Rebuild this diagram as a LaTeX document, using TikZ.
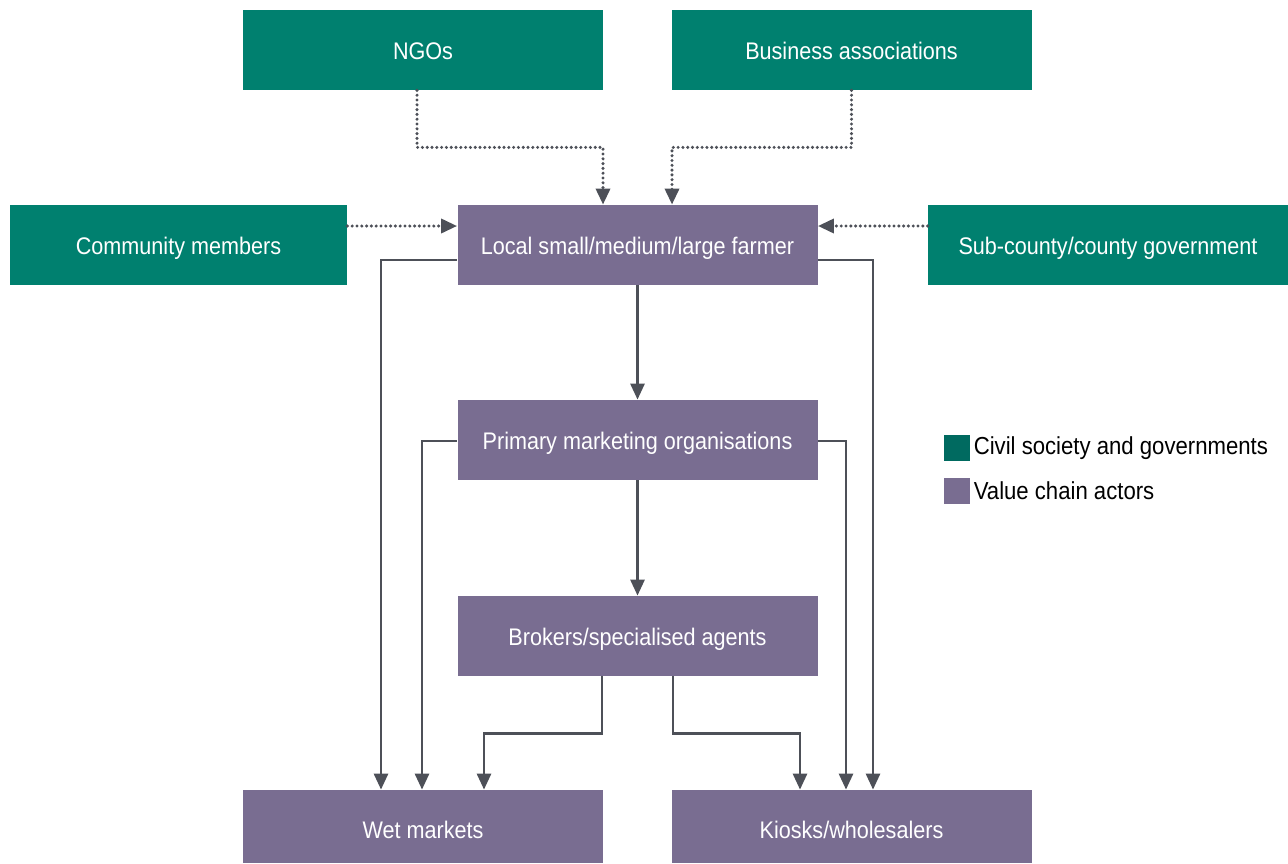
\documentclass[tikz,border=0pt]{standalone}
\usepackage{fontspec}
\setmainfont{Liberation Sans}[FakeStretch=0.9]
\usetikzlibrary{%
  arrows.meta,%
  positioning,% wg. " of "
  calc
}
\definecolor{civilgreen}{HTML}{00806F}
\definecolor{civilkey}{HTML}{006A60}
\definecolor{actorpurple}{HTML}{796D91}
\definecolor{linkgray}{HTML}{4D5058}

\begin{document}
\begin{tikzpicture}
[x=0.5pt, y=-0.5pt, font=\fontsize{12}{14}\selectfont,
civil/.style={rectangle, fill=civilgreen, text=white, inner sep=0pt, text height=9.6pt, text depth=0pt, minimum width=180pt, minimum height=40pt},
actor/.style={rectangle, fill=actorpurple, text=white, inner sep=0pt, text height=9.6pt, text depth=0pt, minimum width=180pt, minimum height=40pt},
flow/.style={draw=linkgray, line width=1.4pt, -{Triangle[width=7pt,length=8pt]}},
dotflow/.style={draw=linkgray, line width=1.7pt, line cap=round, dash pattern=on 0pt off 2.4pt, -{Triangle[width=7pt,length=8pt]}},
keybox/.style={rectangle, inner sep=0pt, minimum size=13pt},
keytext/.style={anchor=west, inner sep=0pt, text=black, font=\fontsize{12.3}{14}\selectfont}]

\useasboundingbox (0,0) rectangle (1288,863);

% civil society and governments
\node[civil] (ngo) at (423,50) {NGOs};
\node[civil] (business) at (851.5,50) {Business associations};
\node[civil, minimum width=168.5pt] (community) at (178.5,245) {Community members};
\node[civil] (subcounty) at (1108,245) {Sub-county/county government};

% value chain actors
\node[actor] (farmer) at (637.5,245) {Local small/medium/large farmer};
\node[actor] (primary) at (637.5,440) {Primary marketing organisations};
\node[actor] (brokers) at (637.5,636) {Brokers/specialised agents};
\node[actor, minimum height=36.5pt, text height=12.1pt] (wet) at (423,826.5) {Wet markets};
\node[actor, minimum height=36.5pt, text height=12.1pt] (kiosks) at (851.5,826.5) {Kiosks/wholesalers};

% legend
\node[keybox, fill=civilkey] (keycivil) at (957,448) {};
\node[keytext, right=1.5pt of keycivil] (keycivillabel) {Civil society and governments};
\node[keybox, fill=actorpurple] (keyactor) at (957,490.5) {};
\node[keytext, right=1.5pt of keyactor] (keyactorlabel) {Value chain actors};

% support (dotted)
\draw[dotflow] ([xshift=-3pt]ngo.south) -- ++(0,-28.5pt) -| ([xshift=-17.25pt]farmer.north);
\draw[dotflow] (business.south) -- ++(0,-28.5pt) -| ([xshift=17.25pt]farmer.north);
\draw[dotflow] ([yshift=9.5pt]community.east) -- ([yshift=9.5pt]farmer.west);
\draw[dotflow] ([yshift=9.5pt]subcounty.west) -- ([yshift=9.5pt]farmer.east);

% product flows
\draw[flow] (farmer) -- (primary);
\draw[flow] (primary) -- (brokers);
\draw[flow] ([yshift=-7.5pt]farmer.west) -| ([xshift=-21pt]wet.north);
\draw[flow] ([yshift=-7.5pt]farmer.east) -| ([xshift=10.75pt]kiosks.north);
\draw[flow] ([yshift=-0.5pt]primary.west) -| ([xshift=-0.5pt]wet.north);
\draw[flow] ([yshift=-0.5pt]primary.east) -| ([xshift=-2.75pt]kiosks.north);
\draw[flow] ([xshift=-17.75pt]brokers.south) -- ++(0,-28.5pt) -| ([xshift=30.5pt]wet.north);
\draw[flow] ([xshift=17.75pt]brokers.south) -- ++(0,-28.5pt) -| ([xshift=-25.75pt]kiosks.north);

\end{tikzpicture}
\end{document}
